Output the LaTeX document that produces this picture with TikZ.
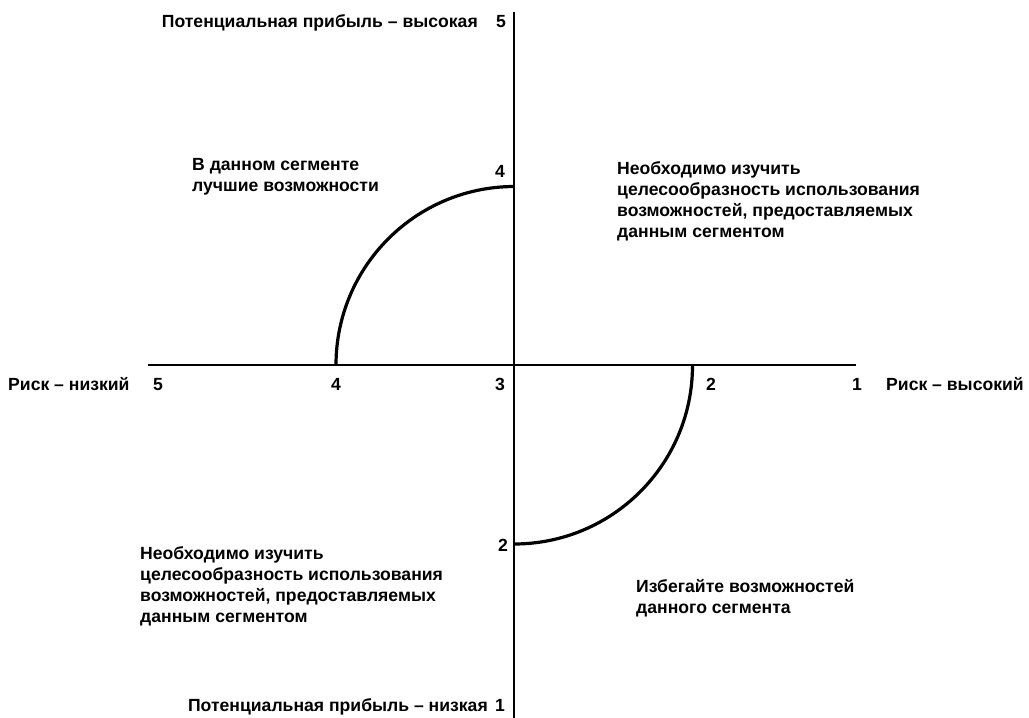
\documentclass[tikz,border=0pt]{standalone}
\usepackage{fontspec}
\setmainfont{Liberation Sans}
\begin{document}
\begin{tikzpicture}[x=1pt,y=-1pt,
  lbl/.style={inner sep=0pt, font=\bfseries\fontsize{17.6}{21}\selectfont, align=left, anchor=base west},
  num/.style={inner sep=0pt, font=\bfseries\fontsize{17.6}{21}\selectfont, anchor=base},
  axis/.style={line width=1.6pt},
  curve/.style={line width=3.2pt}]
\useasboundingbox (0,0) rectangle (1029,718);
% axes
\coordinate (vtop) at (514,12);
\coordinate (vbot) at (514,718);
\coordinate (hl) at (148,365);
\coordinate (hr) at (856,365);
\draw[axis] (vtop) -- (vbot);
\draw[axis] (hl) -- (hr);
% arcs (y axis points down, so angles are mirrored)
\coordinate (a1s) at (336,365);
\coordinate (a2s) at (514,544);
\draw[curve] (a1s) arc[start angle=180, end angle=270, radius=178.5];
\draw[curve] (a2s) arc[start angle=90, end angle=0, radius=178.5];
% vertical axis labels
\node[lbl, anchor=base east] (ptop) at (478,27) {Потенциальная прибыль – высокая};
\node[num] (n5v) at (501,27) {5};
\node[num] (n4v) at (500,177) {4};
\node[num] (n2v) at (503,551) {2};
\node[lbl, anchor=base east] (pbot) at (488,711) {Потенциальная прибыль – низкая};
\node[num] (n1v) at (500,711) {1};
% horizontal axis labels
\node[lbl] (rlow) at (8,390) {Риск – низкий};
\node[num] (n5h) at (158,390) {5};
\node[num] (n4h) at (336,390) {4};
\node[num] (n3h) at (500,390) {3};
\node[num] (n2h) at (711,390) {2};
\node[num] (n1h) at (857,390) {1};
\node[lbl] (rhigh) at (886,390) {Риск – высокий};
% quadrant texts (base anchor = last line)
\node[lbl] (q1) at (192,191) {В данном сегменте\\лучшие возможности};
\node[lbl] (q2) at (617,237) {Необходимо изучить\\целесообразность использования\\возможностей, предоставляемых\\данным сегментом};
\node[lbl] (q3) at (140,622) {Необходимо изучить\\целесообразность использования\\возможностей, предоставляемых\\данным сегментом};
\node[lbl] (q4) at (636,613) {Избегайте возможностей\\данного сегмента};
\end{tikzpicture}
\end{document}
